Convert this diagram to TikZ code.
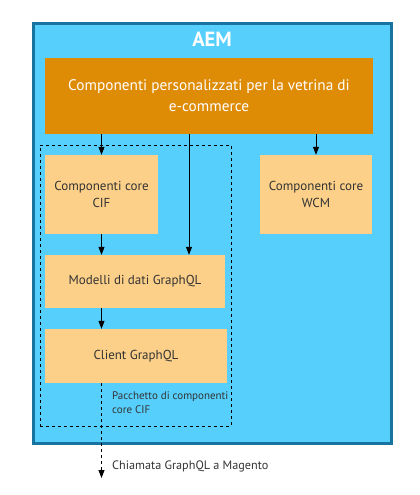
\documentclass[tikz,border=0pt]{standalone}
\usepackage{fontspec}
\setmainfont{PT Sans}
\usetikzlibrary{arrows.meta}
\definecolor{aemblue}{HTML}{56CFFD}
\definecolor{aemedge}{HTML}{18739F}
\definecolor{shoporange}{HTML}{DE8B06}
\definecolor{corebox}{HTML}{FCD088}
\definecolor{ink}{HTML}{333333}
\tikzset{
  lightbox/.style={fill=corebox,text=ink,align=center,font=\fontsize{13}{17}\selectfont,inner sep=0pt},
  link/.style={-{Triangle[width=6pt,length=8pt]},line width=0.8pt}
}
\begin{document}
\begin{tikzpicture}[x=1pt,y=-1pt]
\useasboundingbox (0,0) rectangle (420,495);
\node[draw=aemedge,line width=3pt,fill=aemblue,minimum width=358pt,minimum height=420pt](aem) at (212.5,233.5){};
\node[text=white,font=\fontsize{20.5}{22}\bfseries\selectfont](aemtitle) at (212,39){AEM};
\node[fill=shoporange,text=white,align=center,font=\fontsize{15.3}{21}\selectfont,minimum width=328pt,minimum height=76pt,inner sep=0pt](shop) at (209,96){Componenti personalizzati per la vetrina di\\e-commerce};
\node[draw,dashed,line width=0.6pt,minimum width=191pt,minimum height=281pt](pkg) at (135.5,285.5){};
\node[lightbox,minimum width=113pt,minimum height=79pt](cif) at (101.5,194.5){Componenti core\\CIF};
\node[lightbox,minimum width=112pt,minimum height=79pt](wcm) at (316,194.5){Componenti core\\WCM};
\node[lightbox,minimum width=180pt,minimum height=53pt](model) at (135,281.5){Modelli di dati GraphQL};
\node[lightbox,minimum width=182pt,minimum height=54pt](client) at (136,356){Client GraphQL};
\node[text=ink,align=left,anchor=north west,font=\fontsize{11}{14}\selectfont,inner sep=0pt](pkglabel) at (112,392){Pacchetto di componenti\\core CIF};
\node[text=ink,anchor=west,font=\fontsize{12.2}{14}\selectfont,inner sep=0pt](calllabel) at (112,466){Chiamata GraphQL a Magento};
\coordinate (mid) at (189,0);
\coordinate (call) at (101.5,478);
\draw[link] (shop.south -| cif) -- (cif.north);
\draw[link] (shop.south -| mid) -- (mid |- model.north);
\draw[link] (shop.south -| wcm) -- (wcm.north);
\draw[link] (cif.south) -- (cif.south |- model.north);
\draw[link] (cif.south |- model.south) -- (cif.south |- client.north);
\draw[link,dashed] (cif.south |- client.south) -- (call);
\end{tikzpicture}
\end{document}
